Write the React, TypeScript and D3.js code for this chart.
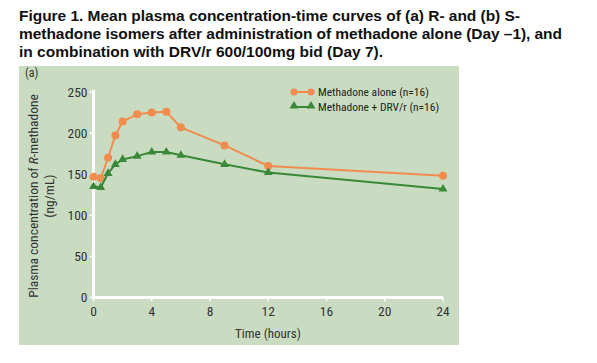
import React from "react";
import * as d3 from "d3";

const titleLines = [
  "Figure 1. Mean plasma concentration-time curves of (a) R- and (b) S-",
  "methadone isomers after administration of methadone alone (Day \u20131), and",
  "in combination with DRV/r 600/100mg bid (Day 7).",
];
const titleWidths = [501, 543, 0];

const times = [0, 0.5, 1, 1.5, 2, 3, 4, 5, 6, 9, 12, 24];
const aloneValues = [147, 145, 170, 197, 214, 223, 225, 226, 207, 185, 160, 148];
const drvValues = [135, 134, 151, 162, 168, 172, 177, 177, 173, 162, 152, 132];
const xTicks = [0, 4, 8, 12, 16, 20, 24];
const yTicks = [0, 50, 100, 150, 200, 250];
const legendLabels = ["Methadone alone (n=16)", "Methadone + DRV/r (n=16)"];

const ORANGE = "#f08c4e";
const GREEN = "#388838";
const PANEL = "#c9dcc1";
const NARROW = "'Liberation Sans Narrow', 'Roboto Condensed', 'Liberation Sans', sans-serif";

export default function App() {
  const x = d3.scaleLinear().domain([0, 24]).range([93.5, 443]);
  const y = d3.scaleLinear().domain([0, 250]).range([297.5, 92]);
  const line = d3
    .line<number>()
    .x((_, i) => x(times[i]))
    .y((d) => y(d));
  const tri = d3.symbol().type(d3.symbolTriangle).size(34)();

  return (
    <svg
      width={597}
      height={363}
      style={{ position: "absolute", left: 0, top: 0, background: "#fff" }}
    >
      {titleLines.map((t, i) => (
        <text
          key={i}
          x={19}
          y={21 + i * 18}
          fontFamily="'Liberation Sans', Arial, sans-serif"
          fontWeight="bold"
          fontSize={15.5}
          fill="#111"
          textLength={titleWidths[i] || undefined}
          lengthAdjust={titleWidths[i] ? "spacing" : undefined}
        >
          {t}
        </text>
      ))}
      <rect x={19} y={66} width={440} height={279} fill={PANEL} />
      <text x={25} y={77} fontFamily={NARROW} fontSize={12} fill="#333">
        (a)
      </text>

      {/* axes */}
      <line x1={x(0)} x2={x(0)} y1={y(250) - 2} y2={y(0) + 1} stroke="#fff" strokeWidth={3} />
      <line x1={x(0) - 1} x2={x(24)} y1={y(0)} y2={y(0)} stroke="#fff" strokeWidth={3} />
      {yTicks.map((t) => (
        <g key={"y" + t}>
          <line x1={x(0) - 4} x2={x(0)} y1={y(t)} y2={y(t)} stroke="#fff" strokeWidth={1.5} />
          <text
            x={x(0) - 6}
            y={y(t)}
            dy="0.35em"
            textAnchor="end"
            fontFamily={NARROW}
            fontSize={13.5}
            fill="#333"
          >
            {t}
          </text>
        </g>
      ))}
      {xTicks.map((t) => (
        <g key={"x" + t}>
          <line x1={x(t)} x2={x(t)} y1={y(0)} y2={y(0) + 4} stroke="#fff" strokeWidth={1.5} />
          <text
            x={x(t)}
            y={y(0) + 18}
            textAnchor="middle"
            fontFamily={NARROW}
            fontSize={13.5}
            fill="#333"
          >
            {t}
          </text>
        </g>
      ))}
      <text x={268} y={338} textAnchor="middle" fontFamily={NARROW} fontSize={13} fill="#333">
        Time (hours)
      </text>
      <text
        transform="translate(38,196) rotate(-90)"
        textAnchor="middle"
        fontFamily={NARROW}
        fontSize={13.5}
        fill="#333"
      >
        Plasma concentration of <tspan fontStyle="italic">R</tspan>-methadone
      </text>
      <text
        transform="translate(54,196) rotate(-90)"
        textAnchor="middle"
        fontFamily={NARROW}
        fontSize={13.5}
        fill="#333"
      >
        (ng/mL)
      </text>

      {/* series */}
      <path d={line(aloneValues) || ""} fill="none" stroke={ORANGE} strokeWidth={2} />
      {aloneValues.map((v, i) => (
        <circle key={"a" + i} cx={x(times[i])} cy={y(v)} r={4} fill={ORANGE} />
      ))}
      <path d={line(drvValues) || ""} fill="none" stroke={GREEN} strokeWidth={2} />
      {drvValues.map((v, i) => (
        <path key={"d" + i} d={tri || ""} transform={`translate(${x(times[i])},${y(v)})`} fill={GREEN} />
      ))}

      {/* legend */}
      <g>
        <line x1={294} x2={311} y1={92} y2={92} stroke={ORANGE} strokeWidth={2} />
        <circle cx={294} cy={92} r={3.5} fill={ORANGE} />
        <circle cx={311} cy={92} r={3.5} fill={ORANGE} />
        <text x={318} y={92} dy="0.35em" fontFamily={NARROW} fontSize={11.5} fill="#222">
          {legendLabels[0]}
        </text>
        <line x1={294} x2={311} y1={107} y2={107} stroke={GREEN} strokeWidth={2} />
        <path d={tri || ""} transform="translate(294,106)" fill={GREEN} />
        <path d={tri || ""} transform="translate(311,106)" fill={GREEN} />
        <text x={318} y={107} dy="0.35em" fontFamily={NARROW} fontSize={11.5} fill="#222">
          {legendLabels[1]}
        </text>
      </g>
    </svg>
  );
}
